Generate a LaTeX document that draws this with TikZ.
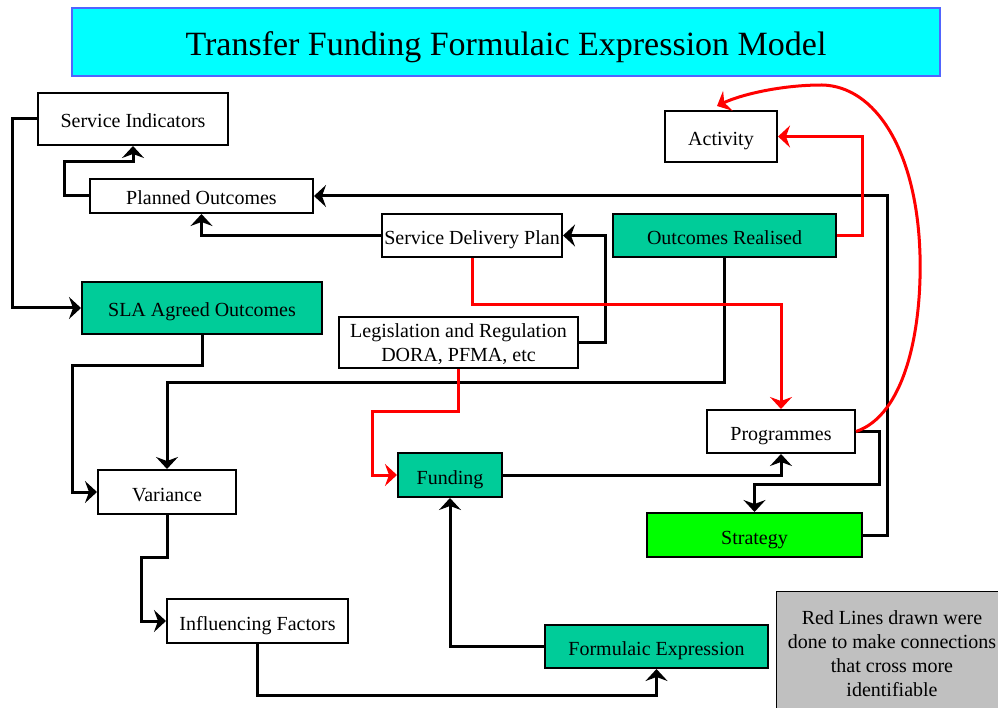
\documentclass[tikz,border=0pt]{standalone}
\usepackage{fontspec}
\setmainfont{Liberation Serif}
\usetikzlibrary{arrows.meta, positioning, calc}

\definecolor{teal}{RGB}{0,204,153}
\definecolor{lime}{RGB}{0,255,0}
\definecolor{titlecyan}{RGB}{0,255,255}
\definecolor{titleedge}{RGB}{80,100,255}
\definecolor{notegray}{RGB}{192,192,192}

\tikzset{
  box/.style={draw, line width=2pt, fill=white, inner sep=1pt,
              text height=18pt, text depth=0pt,
              font=\fontsize{20}{24}\selectfont},
  tbox/.style={box, fill=teal},
  conn/.style={line width=3pt, -{Stealth[length=12pt, width=22pt, inset=4pt]}},
  rconn/.style={conn, red},
}

\begin{document}
\begin{tikzpicture}[x=1pt, y=-1pt]
  \useasboundingbox (0,0) rectangle (998,708);

  % Title banner
  \node[draw=titleedge, line width=2pt, fill=titlecyan,
        text height=28pt, text depth=0pt,
        minimum width=868pt, minimum height=68pt,
        font=\fontsize{34}{40}\selectfont] (title) at (506,42)
        {Transfer Funding Formulaic Expression Model};

  % Boxes
  \node[box,  minimum width=190pt, minimum height=52pt] (si)    at (133,119)   {Service Indicators};
  \node[box,  minimum width=223pt, minimum height=34pt] (po)    at (201.5,196) {Planned Outcomes};
  \node[box,  minimum width=180pt, minimum height=43pt] (sdp)   at (472,235.5) {Service Delivery Plan};
  \node[tbox, minimum width=223pt, minimum height=43pt] (orl)   at (724.5,235.5) {Outcomes Realised};
  \node[box,  minimum width=112pt, minimum height=51pt] (act)   at (721,136.5) {Activity};
  \node[tbox, minimum width=240pt, minimum height=52pt] (sla)   at (202,308)   {SLA Agreed Outcomes};
  \node[box,  minimum width=239pt, minimum height=51pt, align=center,
        text height=, text depth=-1pt]
        (leg) at (458.5,342.5) {Legislation and Regulation\\DORA, PFMA, etc};
  \node[box,  minimum width=138pt, minimum height=44pt] (var)   at (167,492)   {Variance};
  \node[tbox, minimum width=104pt, minimum height=44pt] (fund)  at (450,475)   {Funding};
  \node[box,  minimum width=148pt, minimum height=43pt] (prog)  at (781,431.5) {Programmes};
  \node[box,  fill=lime, minimum width=215pt, minimum height=44pt]
        (strat) at (754.5,535) {Strategy};
  \node[box,  minimum width=181pt, minimum height=44pt] (inf)   at (257.5,621) {Influencing Factors};
  \node[tbox, minimum width=223pt, minimum height=43pt] (form)  at (656.5,646.5) {Formulaic Expression};

  % Note in the corner
  \node[draw, line width=1pt, fill=notegray, minimum width=234pt, minimum height=130pt,
        inner sep=0pt] (note) at (893,656) {};
  \node[font=\fontsize{20}{24}\selectfont, align=center] (notetext) at (892,654)
        {Red Lines drawn were\\done to make connections\\that cross more\\identifiable};

  % Black connectors
  \draw[conn] (si.west) -- ++(-25,0) |- (sla.west);
  \draw[conn] (po.west) -| (64,162) -| (si.south);
  \draw[conn] (sdp.west) -| (po.south);
  \draw[conn] (strat.east) -| (887,196) -- (po.east);
  \draw[conn] (leg.east) -| (605,235.5) -- (sdp.east);
  \draw[conn] (orl.south) -- ++(0,124) -| (var.north);
  \draw[conn] (sla.south) -- ++(0,30) -| ([xshift=-25pt]var.west) -- (var.west);
  \draw[conn] (fund.east) -| (prog.south);
  \draw[conn] (prog.east) -| (879,484) -| (strat.north);
  \draw[conn] (var.south) -- ++(0,42) -| ([xshift=-25pt]inf.west) -- (inf.west);
  \draw[conn] (inf.south) -- ++(0,51) -| (form.south);
  \draw[conn] (form.west) -| (fund.south);

  % Red connectors
  \draw[rconn] (orl.east) -| (862,136.5) -- (act.east);
  \draw[rconn] (sdp.south) -- ++(0,47) -| (prog.north);
  \draw[rconn] (leg.south) -- ++(0,42) -| ([xshift=-25pt]fund.west) -- (fund.west);
  \draw[rconn] (prog.east) .. controls (905,415) and (922,330) .. (920,255)
                           .. controls (917,150) and (875,86) .. (822,85)
                           .. controls (780,85) and (740,95) .. ([xshift=-4pt,yshift=4pt]act.north);
\end{tikzpicture}
\end{document}
